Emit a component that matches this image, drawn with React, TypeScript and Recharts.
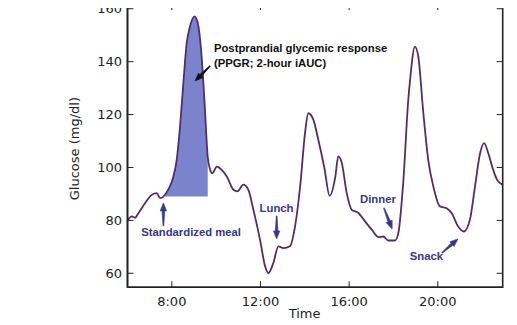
import React from 'react';
import {
  ComposedChart, Line, Area, XAxis, YAxis, ReferenceDot, ReferenceLine, ReferenceArea, Label,
} from 'recharts';

// ---- data ----
const hours = [
  6.0, 6.19, 6.34, 6.49, 6.79, 7.10, 7.32, 7.47, 7.62, 7.70, 7.84, 8.07, 8.22, 8.37, 8.52,
  8.67, 8.82, 9.02, 9.17, 9.32, 9.47, 9.62, 9.73, 9.83, 10.03, 10.25, 10.48, 10.78, 10.96,
  11.23, 11.45, 11.68, 11.98, 12.21, 12.36, 12.58, 12.81, 13.03, 13.33, 13.56, 13.79, 14.01,
  14.16, 14.39, 14.61, 14.88, 15.12, 15.38, 15.51, 15.67, 15.89, 16.12, 16.42, 16.72, 17.02,
  17.32, 17.54, 17.77, 18.07, 18.22, 18.44, 18.67, 18.75, 18.97, 19.12, 19.35, 19.57, 19.80,
  20.10, 20.40, 20.63, 20.92, 21.18, 21.45, 21.68, 21.91, 22.09, 22.28, 22.50, 22.68, 22.93,
];
const glucose = [
  79.8, 81.5, 81, 82.7, 86.5, 89.7, 90.3, 88.4, 89, 89.8, 91.6, 96.6, 102.9, 115.5, 131.9,
  147, 153.3, 157.1, 154.6, 144.5, 125.6, 104, 99.1, 97.8, 100.3, 99.1, 96.6, 91.6, 91,
  93.5, 91.6, 84, 72.7, 62.6, 60.1, 63.9, 70.2, 69.5, 70.2, 77.7, 92.8, 113,
  120.5, 118, 110.5, 100, 89.3, 96.6, 104.2, 101.7, 90.4, 84, 82.8, 79.6, 76.5,
  73.7, 73.9, 72.4, 72.4, 75.2, 94.1, 125.6, 133, 145.7, 142, 120.5, 102.9, 92.8,
  85.3, 84.6, 82.7, 77.7, 75.8, 80.2, 92.8, 105.4, 109.2, 105.4, 99.1, 95.3, 93.4,
];
const ppgrStart = 7.7;
const ppgrEnd = 9.62;
const ppgrBase = 89;

const xTicks = [8, 12, 16, 20];
const yTicks = [60, 80, 100, 120, 140, 160];
const xDomain = [6, 22.93];
const yDomain = [54.7, 161.8];

const mealLabels = ['Standardized meal', 'Lunch', 'Dinner', 'Snack'];
const mealLabelX = [8.87, 12.725, 17.3, 19.49];
const mealLabelY = [74.1, 83.2, 86.6, 65.0];
const mealArrowFrom = [[7.62, 77.9], [12.73, 81.7], [17.57, 84.7], [20.19, 67.7]];
const mealArrowTo = [[7.62, 86.6], [12.73, 73.0], [17.94, 76.75], [20.91, 73.0]];

const ppgrTitle = ['Postprandial glycemic response', '(PPGR; 2-hour iAUC)'];
const ppgrTitleAt = [9.9, 143.67];
const ppgrArrowFrom = [9.73, 138.4];
const ppgrArrowTo = [9.05, 132.7];

const rows = hours.map((t, i) => ({
  t,
  g: glucose[i],
  ppgr: t >= ppgrStart - 1e-9 && t <= ppgrEnd + 1e-9 ? [ppgrBase, glucose[i]] : null,
}));

// ---- layout / styles ----
const W = 517;
const H = 325;
const M = { top: 4, right: 14.3, bottom: 0, left: 0 };
const Y_AXIS_W = 127.5;
const X_AXIS_H = 37.7;
const PLOT_W = W - M.left - M.right - Y_AXIS_W;
const PLOT_H = H - M.top - M.bottom - X_AXIS_H;

const FONT = 'DejaVu Sans';
const ANN_FONT = 'Liberation Sans, Arial, sans-serif';
const AXIS = '#222';
const LINE = '#512c6e';
const FILL = '#7b83cc';
const NAVY = '#35388a';
const TICK = 6;
const FRAME_W = 1.6;

const fmtHour = (v: number) => `${v}:00`;

const BottomTick = (p: any) => (
  <g>
    <line x1={p.x} x2={p.x} y1={p.y} y2={p.y - TICK} stroke={AXIS} strokeWidth={1} />
    <line x1={p.x} x2={p.x} y1={p.y - PLOT_H} y2={p.y - PLOT_H + TICK} stroke={AXIS} strokeWidth={1} />
    <text x={p.x} y={p.y + 18.7} textAnchor="middle" fontFamily={FONT} fontSize={13} fill={AXIS}>
      {fmtHour(p.payload.value)}
    </text>
  </g>
);
const LeftTick = (p: any) => (
  <g>
    <line x1={p.x} x2={p.x + TICK} y1={p.y} y2={p.y} stroke={AXIS} strokeWidth={1} />
    <line x1={p.x + PLOT_W} x2={p.x + PLOT_W - TICK} y1={p.y} y2={p.y} stroke={AXIS} strokeWidth={1} />
    <text x={p.x - 5.5} y={p.y} dy="0.36em" textAnchor="end" fontFamily={FONT} fontSize={13} fill={AXIS}>
      {p.payload.value}
    </text>
  </g>
);

const arrow = (color: string) => (p: any) => {
  const { x1, y1, x2, y2 } = p;
  const dx = x2 - x1;
  const dy = y2 - y1;
  const len = Math.sqrt(dx * dx + dy * dy) || 1;
  const ux = dx / len;
  const uy = dy / len;
  const nx = -uy;
  const ny = ux;
  const head = 8;
  const bx = x2 - ux * head;
  const by = y2 - uy * head;
  const pts = [
    [x1 + nx * 0.4, y1 + ny * 0.4],
    [bx + nx * 1.3, by + ny * 1.3],
    [bx + nx * 3.2, by + ny * 3.2],
    [x2, y2],
    [bx - nx * 3.2, by - ny * 3.2],
    [bx - nx * 1.3, by - ny * 1.3],
    [x1 - nx * 0.4, y1 - ny * 0.4],
  ];
  return <polygon points={pts.map((q) => q.join(',')).join(' ')} fill={color} stroke={color} strokeWidth={0.6} />;
};

const mealText = (label: string) => (p: any) => (
  <text x={p.cx} y={p.cy} textAnchor="middle" fontFamily={ANN_FONT} fontWeight="bold" fontSize={11.3} fill={NAVY}>
    {label}
  </text>
);
const ppgrText = (p: any) => (
  <text x={p.cx} y={p.cy} fontFamily={ANN_FONT} fontWeight="bold" fontSize={11.3} fill="#111">
    <tspan x={p.cx}>{ppgrTitle[0]}</tspan>
    <tspan x={p.cx} dy={15}>{ppgrTitle[1]}</tspan>
  </text>
);

const xLabel = (p: any) => {
  const vb = p.viewBox || { x: Y_AXIS_W, y: M.top + PLOT_H, width: PLOT_W, height: X_AXIS_H };
  return (
    <text x={vb.x + vb.width / 2 - 10.5} y={vb.y + 30.7} textAnchor="middle" fontFamily={FONT} fontSize={13} fill={AXIS}>
      Time
    </text>
  );
};
const yLabel = (p: any) => {
  const vb = p.viewBox || { x: 0, y: M.top, width: Y_AXIS_W, height: PLOT_H };
  const cx = vb.x + 79.5;
  const cy = vb.y + vb.height / 2 + 3;
  return (
    <text x={cx} y={cy} transform={`rotate(-90 ${cx} ${cy})`} textAnchor="middle" fontFamily={FONT} fontSize={13} fill={AXIS}>
      Glucose (mg/dl)
    </text>
  );
};

export default function App() {
  return (
    <div style={{ position: 'relative', margin: '-8px 0 0 -8px', width: W, height: H, background: '#fff' }}>
      <ComposedChart width={W} height={H} data={rows} margin={M}>
        <XAxis
          dataKey="t" type="number" domain={xDomain} ticks={xTicks} allowDataOverflow
          height={X_AXIS_H} tickSize={0} tickMargin={0} tickLine={false} tick={BottomTick}
          axisLine={{ stroke: AXIS, strokeWidth: FRAME_W }} interval={0}
        >
          <Label content={xLabel} />
        </XAxis>
        <YAxis
          type="number" domain={yDomain} ticks={yTicks} allowDataOverflow width={Y_AXIS_W}
          tickSize={0} tickMargin={0} tickLine={false} tick={LeftTick}
          axisLine={{ stroke: AXIS, strokeWidth: FRAME_W }} interval={0}
        >
          <Label content={yLabel} />
        </YAxis>
        <Area
          dataKey="ppgr" type="monotone" fill={FILL} fillOpacity={1} stroke="none"
          isAnimationActive={false} connectNulls={false} dot={false} activeDot={false}
        />
        <Line
          dataKey="g" type="monotone" stroke={LINE} strokeWidth={1.8} dot={false}
          activeDot={false} isAnimationActive={false}
        />
        <ReferenceArea
          x1={xDomain[0]} x2={xDomain[1]} y1={yDomain[0]} y2={yDomain[1]}
          fill="none" fillOpacity={0} stroke={AXIS} strokeWidth={FRAME_W} strokeOpacity={1} ifOverflow="visible"
        />
        <ReferenceLine
          segment={[{ x: ppgrArrowFrom[0], y: ppgrArrowFrom[1] }, { x: ppgrArrowTo[0], y: ppgrArrowTo[1] }]}
          shape={arrow('#111')}
        />
        {mealLabels.map((m, i) => (
          <ReferenceLine
            key={`a${i}`}
            segment={[{ x: mealArrowFrom[i][0], y: mealArrowFrom[i][1] }, { x: mealArrowTo[i][0], y: mealArrowTo[i][1] }]}
            shape={arrow(NAVY)}
          />
        ))}
        {mealLabels.map((m, i) => (
          <ReferenceDot key={`l${i}`} x={mealLabelX[i]} y={mealLabelY[i]} r={1} shape={mealText(m)} />
        ))}
        <ReferenceDot x={ppgrTitleAt[0]} y={ppgrTitleAt[1]} r={1} shape={ppgrText} />
      </ComposedChart>
      <div
        style={{
          position: 'absolute',
          left: M.left + Y_AXIS_W - FRAME_W / 2,
          top: M.top - FRAME_W / 2,
          width: PLOT_W + FRAME_W,
          height: PLOT_H + FRAME_W,
          boxSizing: 'border-box',
          borderTop: `${FRAME_W}px solid ${AXIS}`,
          borderRight: `${FRAME_W}px solid ${AXIS}`,
          pointerEvents: 'none',
        }}
      />
    </div>
  );
}
